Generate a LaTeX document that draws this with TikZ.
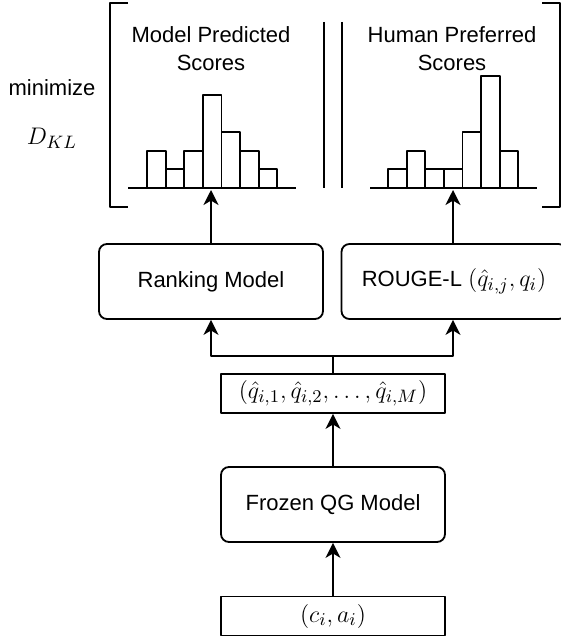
\documentclass[tikz,border=0pt]{standalone}
\usepackage{fontspec}
\setmainfont{Liberation Sans}
\usepackage{amsmath}
\usepackage{tikz}
\usetikzlibrary{arrows.meta,calc,positioning}
\newcommand{\mth}[1]{{\fontsize{13}{16}\selectfont$#1$}}
\tikzset{rbox/.style={draw,rounded corners=4pt,minimum width=112pt,minimum height=37.5pt,inner sep=2pt},
  sbox/.style={draw,minimum width=112pt,minimum height=19.5pt,inner sep=1pt},
  bar/.style={draw,fill=white}}

\begin{document}
\begin{tikzpicture}[x=0.5pt,y=-0.5pt,>={Stealth[length=7.5pt,width=7.5pt,inset=2.2pt]},line join=round,line width=0.9pt,font=\fontsize{11}{14}\selectfont]
\useasboundingbox (0,0) rectangle (561,636);
% --- pipeline boxes
\node[rbox] (rank) at (211,281.5) {Ranking Model};
\node[rbox,minimum width=112.5pt] (rouge) at (454,281.5) {ROUGE-L \mth{(\hat{q}_{i,j},q_i)}};
\node[sbox] (cands) at (333,393.5) {\mth{(\hat{q}_{i,1},\hat{q}_{i,2},\ldots,\hat{q}_{i,M})}};
\node[rbox] (qg) at (333,504.5) {Frozen QG Model};
\node[sbox] (inp) at (333,616) {\mth{(c_i,a_i)}};
\coordinate (split) at (333,356);
\coordinate (hl) at (211,190);
\coordinate (hr) at (453,190);
\draw[->] (inp) -- (qg);
\draw[->] (qg) -- (cands);
\draw (cands) -- (split);
\draw[->] (split) -| (rank);
\draw[->] (split) -| (hr |- rouge.south);
\draw[->] (rank) -- (hl);
\draw[->] (hr |- rouge.north) -- (hr);
% --- histograms
\draw (128,188) -- (296,188);
\foreach \h [count=\k from 0] in {2,1,2,5,3,2,1}
  \draw[bar] ({147+18.6*\k},188) rectangle ({147+18.6*(\k+1)},{188-18.6*\h});
\draw (370,188) -- (537,188);
\foreach \h [count=\k from 0] in {1,2,1,1,3,6,2}
  \draw[bar] ({388+18.6*\k},188) rectangle ({388+18.6*(\k+1)},{188-18.6*\h});
\node[align=center] (predlbl) at (211,49) {Model Predicted\\Scores};
\node[align=center] (preflbl) at (452,49) {Human Preferred\\Scores};
% --- brackets and divider
\draw (128,3) -- (110,3) -- (110,207) -- (128,207);
\draw (542,3) -- (560,3) -- (560,207) -- (542,207);
\draw (324,22) -- (324,188) (342,22) -- (342,188);
\node (minlbl) at (52,88) {minimize};
\node (dkl) at (52,138) {\mth{D_{KL}}};
\end{tikzpicture}
\end{document}
